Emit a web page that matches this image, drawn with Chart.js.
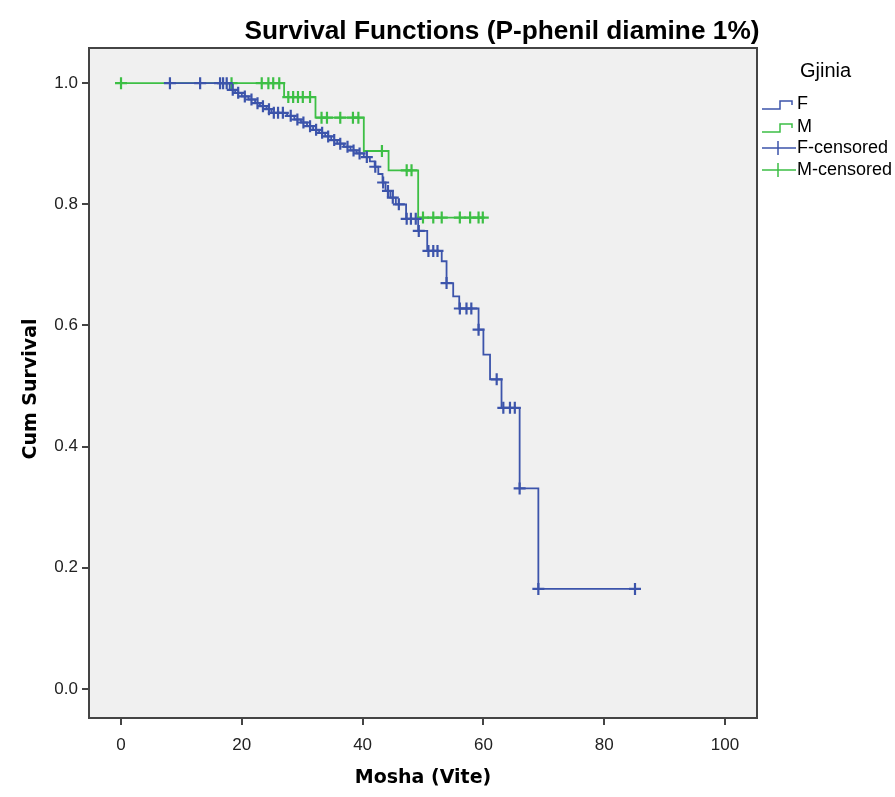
<!DOCTYPE html>
<html>
<head>
<meta charset="utf-8">
<script src="https://cdn.jsdelivr.net/npm/chart.js@4"></script>
<style>
  html, body { margin: 0; padding: 0; background: #fff; }
  #wrap { width: 895px; height: 797px; }
</style>
</head>
<body>
<div id="wrap"><canvas id="survChart" width="895" height="797"></canvas></div>
<script>
// Kaplan-Meier steps (age where the curve drops, level after the drop)
const fStepAge = [8.1, 18.0, 18.9, 20.0, 21.1, 22.2, 23.0, 24.1, 24.9, 27.5, 28.7, 29.8, 30.8, 31.8, 32.8, 33.8, 34.8, 35.8, 36.9, 38.0, 39.0, 40.2, 41.2, 42.0, 42.6, 43.3, 43.8, 44.6, 45.5, 47.2, 49.2, 50.7, 53.1, 53.9, 55.0, 56.0, 59.2, 60.0, 61.1, 63.0, 66.0, 69.1, 85.1];
const fStepSurv = [1.0, 0.989, 0.984, 0.978, 0.973, 0.967, 0.962, 0.957, 0.951, 0.946, 0.940, 0.935, 0.929, 0.923, 0.918, 0.912, 0.906, 0.900, 0.895, 0.889, 0.884, 0.878, 0.871, 0.862, 0.850, 0.836, 0.822, 0.811, 0.800, 0.776, 0.756, 0.723, 0.706, 0.670, 0.648, 0.628, 0.593, 0.552, 0.511, 0.464, 0.331, 0.165, 0.165];
const fCensoredAge = [8.1, 13.1, 16.4, 16.9, 17.5, 18.5, 19.4, 20.5, 21.6, 22.6, 23.5, 24.5, 25.3, 26.0, 26.8, 28.1, 29.2, 30.2, 31.3, 32.3, 33.3, 34.3, 35.3, 36.3, 37.5, 38.5, 39.5, 40.7, 42.1, 43.4, 44.2, 45.0, 46.0, 47.3, 48.0, 48.8, 49.3, 50.9, 51.7, 52.4, 53.9, 56.1, 57.2, 58.0, 59.2, 62.2, 63.3, 64.4, 65.2, 66.0, 69.1, 85.1];

const mStepAge = [0, 27.0, 32.2, 40.2, 44.3, 49.2, 59.9];
const mStepSurv = [1.0, 0.977, 0.943, 0.888, 0.856, 0.778, 0.778];
const mCensoredAge = [0, 18.3, 23.3, 24.4, 25.2, 26.2, 27.7, 28.5, 29.3, 30.1, 31.3, 33.2, 34.1, 36.3, 38.4, 39.3, 43.2, 47.3, 48.1, 50.0, 51.7, 53.1, 56.1, 57.8, 59.2, 59.9];

const xTicks = [0, 20, 40, 60, 80, 100];
const yTicks = [0.0, 0.2, 0.4, 0.6, 0.8, 1.0];

const blue = '#3c54ab';
const green = '#3dbf45';

// level of a step curve at a given age
function levelAt(ages, surv, t) {
    let s = surv[0];
    for (let i = 0; i < ages.length; i++) {
        if (ages[i] <= t + 1e-9) s = surv[i];
    }
    return s;
}

const toPts = (xs, ys) => xs.map((x, i) => ({ x: x, y: ys[i] }));
const censPts = (cens, ages, surv) => cens.map(t => ({ x: t, y: levelAt(ages, surv, t) }));

const area = { left: 89, right: 757, top: 48, bottom: 718 };

const framePlugin = {
    id: 'frame',
    beforeDatasetsDraw(chart) {
        const { ctx, chartArea: a } = chart;
        ctx.save();
        ctx.fillStyle = '#f0f0f0';
        ctx.fillRect(a.left, a.top, a.right - a.left, a.bottom - a.top);
        ctx.restore();
    },
    afterDatasetsDraw(chart) {
        const { ctx, chartArea: a } = chart;
        ctx.save();
        ctx.strokeStyle = '#444';
        ctx.lineWidth = 2;
        ctx.strokeRect(a.left, a.top, a.right - a.left, a.bottom - a.top);
        ctx.restore();
    },
    afterDraw(chart) {
        const ctx = chart.ctx;
        ctx.save();
        ctx.fillStyle = '#000';
        ctx.textBaseline = 'middle';
        ctx.textAlign = 'center';
        // title, squeezed to the width it has in the picture
        const title = 'Survival Functions (P-phenil diamine 1%)';
        ctx.font = 'bold 25px "Liberation Sans", Arial';
        const tw = ctx.measureText(title).width;
        ctx.save();
        ctx.translate(502, 32);
        ctx.scale(515 / tw, 1);
        ctx.fillText(title, 0, 0);
        ctx.restore();
        // axis titles
        ctx.font = 'bold 19px "DejaVu Sans", Verdana';
        ctx.fillText('Mosha (Vite)', 423, 778);
        ctx.save();
        ctx.translate(31, 389);
        ctx.rotate(-Math.PI / 2);
        ctx.fillText('Cum Survival', 0, 0);
        ctx.restore();
        // legend
        ctx.textAlign = 'left';
        ctx.font = '20px "Liberation Sans", Arial';
        ctx.fillText('Gjinia', 800, 71);
        const rows = [
            { label: 'F', color: blue, step: true, y: 104 },
            { label: 'M', color: green, step: true, y: 127 },
            { label: 'F-censored', color: blue, step: false, y: 148 },
            { label: 'M-censored', color: green, step: false, y: 170 }
        ];
        ctx.font = '18px "Liberation Sans", Arial';
        rows.forEach(r => {
            ctx.strokeStyle = r.color;
            ctx.lineWidth = 1.5;
            ctx.beginPath();
            if (r.step) {
                ctx.moveTo(762, r.y + 5);
                ctx.lineTo(780, r.y + 5);
                ctx.lineTo(780, r.y - 3);
                ctx.lineTo(792, r.y - 3);
                ctx.lineTo(792, r.y + 1);
            } else {
                ctx.moveTo(762, r.y);
                ctx.lineTo(796, r.y);
                ctx.moveTo(778, r.y - 7);
                ctx.lineTo(778, r.y + 7);
            }
            ctx.stroke();
            ctx.fillStyle = '#000';
            ctx.fillText(r.label, 797, r.y);
        });
        ctx.restore();
    }
};

const tickFont = { family: '"Liberation Sans", Arial', size: 17 };

//eslint-disable-next-line
const survChart = new Chart(document.getElementById('survChart'), {
    type: 'line',
    data: {
        datasets: [
            {
                label: 'F',
                data: toPts(fStepAge, fStepSurv),
                stepped: true,
                borderColor: blue,
                borderWidth: 1.8,
                pointRadius: 0,
                fill: false
            },
            {
                label: 'F-censored',
                data: censPts(fCensoredAge, fStepAge, fStepSurv),
                showLine: false,
                pointStyle: 'cross',
                pointRadius: 6,
                pointBorderWidth: 2.2,
                borderColor: blue,
                pointBorderColor: blue
            },
            {
                label: 'M',
                data: toPts(mStepAge, mStepSurv),
                stepped: true,
                borderColor: green,
                borderWidth: 1.8,
                pointRadius: 0,
                fill: false
            },
            {
                label: 'M-censored',
                data: censPts(mCensoredAge, mStepAge, mStepSurv),
                showLine: false,
                pointStyle: 'cross',
                pointRadius: 6,
                pointBorderWidth: 2.2,
                borderColor: green,
                pointBorderColor: green
            }
        ]
    },
    options: {
        responsive: false,
        animation: false,
        layout: { padding: { left: 0, top: area.top, right: 895 - area.right, bottom: 0 } },
        plugins: {
            legend: { display: false },
            title: { display: false },
            tooltip: { enabled: false }
        },
        scales: {
            x: {
                type: 'linear',
                min: -5.3,
                max: 105.3,
                afterFit(scale) { scale.height = 797 - area.bottom; },
                afterBuildTicks(scale) { scale.ticks = xTicks.map(v => ({ value: v })); },
                grid: { drawOnChartArea: false, drawTicks: true, tickLength: 7, color: '#444', lineWidth: 2 },
                border: { display: false },
                ticks: { color: '#222', font: tickFont, padding: 10, includeBounds: false }
            },
            y: {
                type: 'linear',
                min: -0.048,
                max: 1.058,
                afterFit(scale) { scale.width = area.left; },
                afterBuildTicks(scale) { scale.ticks = yTicks.map(v => ({ value: v })); },
                grid: { drawOnChartArea: false, drawTicks: true, tickLength: 7, color: '#444', lineWidth: 2 },
                border: { display: false },
                ticks: { color: '#222', font: tickFont, padding: 4, includeBounds: false, callback: v => v.toFixed(1) }
            }
        }
    },
    plugins: [framePlugin]
});
</script>
</body>
</html>
